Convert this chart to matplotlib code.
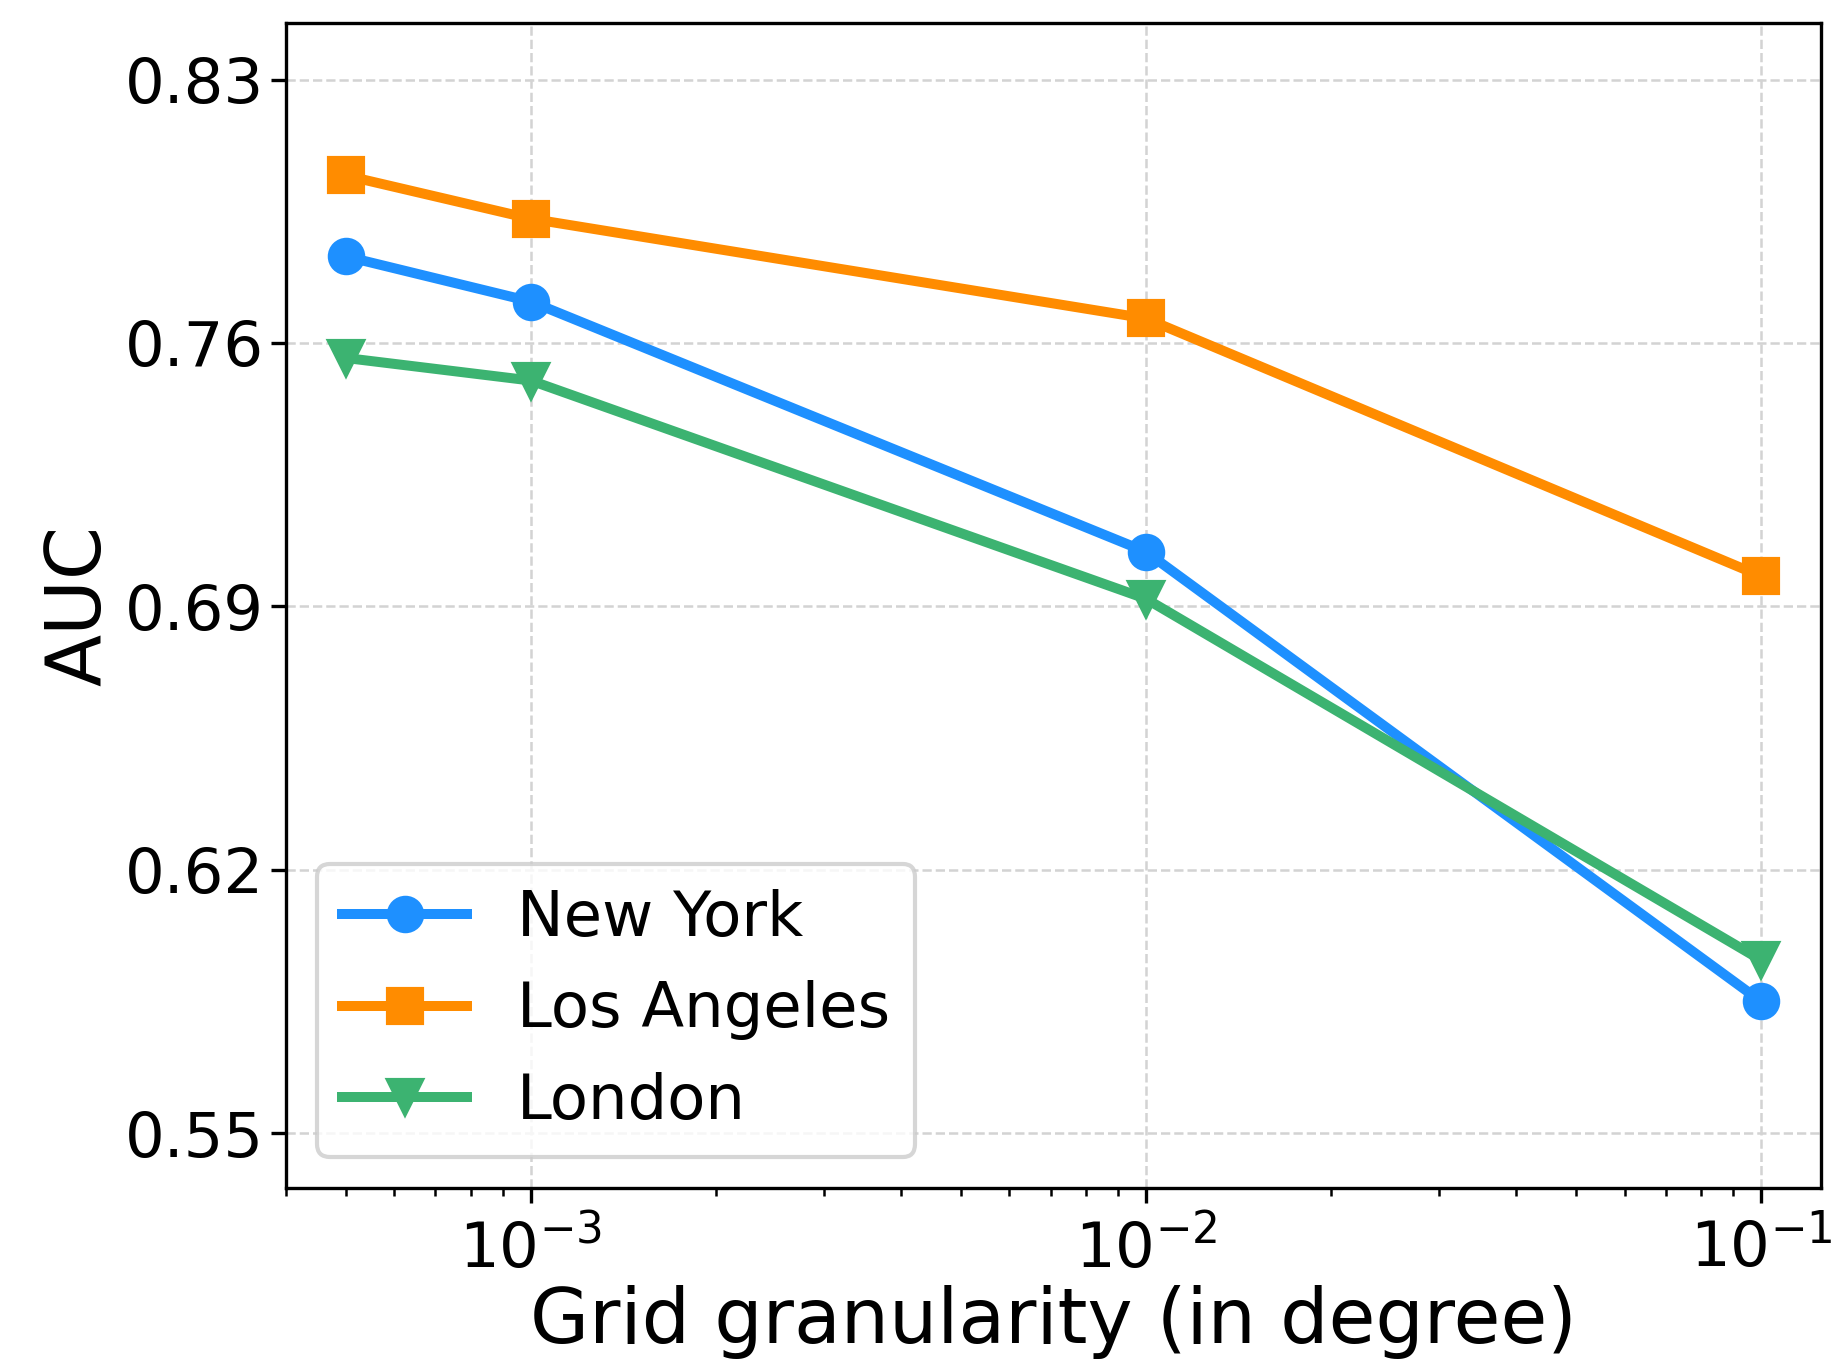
import numpy as np
import matplotlib
matplotlib.use('Agg')
import matplotlib.pyplot as plt

# grid sizes in degrees and AUC per city
granularity = [5e-4, 1e-3, 1e-2, 1e-1]
auc_new_york = [0.783, 0.771, 0.7045, 0.585]
auc_los_angeles = [0.8045, 0.793, 0.7665, 0.698]
auc_london = [0.756, 0.750, 0.692, 0.596]
yticks = [0.55, 0.62, 0.69, 0.76, 0.83]

plt.rcParams['font.family'] = 'DejaVu Sans'

fig = plt.figure(figsize=(1839/300, 1363/300), dpi=300)
ax = fig.add_axes([0.1555, 0.1284, 0.8345, 0.8544])

ax.plot(granularity, auc_new_york, color='dodgerblue', marker='o', lw=2.4, ms=8, label='New York')
ax.plot(granularity, auc_los_angeles, color='darkorange', marker='s', lw=2.4, ms=8, label='Los Angeles')
ax.plot(granularity, auc_london, color='mediumseagreen', marker='v', lw=2.4, ms=8, label='London')

ax.set_xscale('log')
ax.set_xlim(4e-4, 0.125)
ax.set_ylim(0.5354, 0.8449)
ax.set_yticks(yticks)
ax.set_yticklabels(['%.2f' % t for t in yticks])
ax.tick_params(labelsize=15)
ax.tick_params(axis='y', pad=1.8)
ax.grid(True, which='major', ls='--', lw=0.6, color='#d3d3d3')

ax.set_xlabel('Grid granularity (in degree)', fontsize=18.3, labelpad=1)
ax.set_ylabel('AUC', fontsize=18.3, labelpad=2)
ax.legend(loc='lower left', fontsize=15)

fig.savefig('out.png', dpi=300)
